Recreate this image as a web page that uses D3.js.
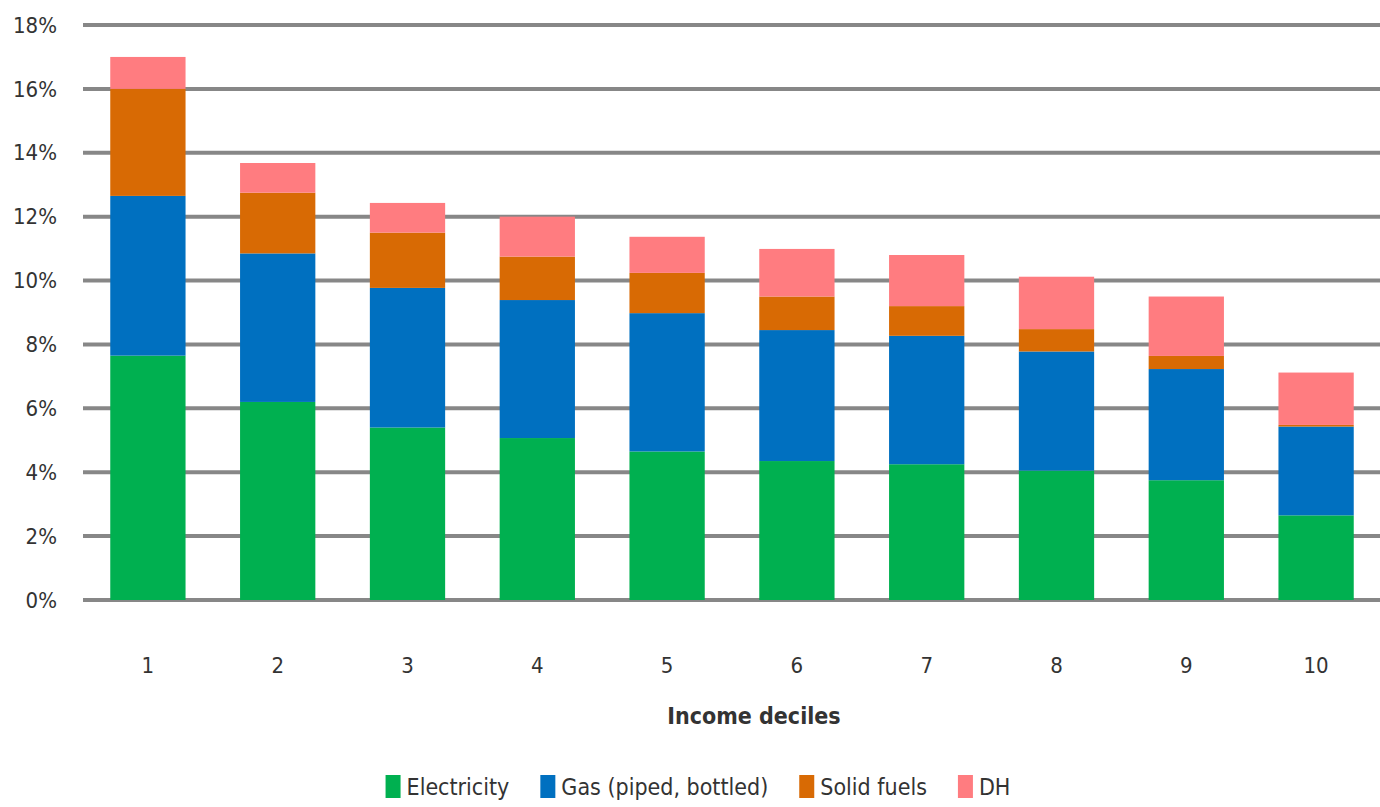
<!DOCTYPE html>
<html>
<head>
<meta charset="utf-8" />
<title>Energy expenditure by income decile</title>
<style>
  body { margin: 0; background: #fff; }
  text { font-family: "Liberation Sans Narrow", "DejaVu Sans Condensed", sans-serif; fill: #333; }
</style>
</head>
<body>
<div id="chart"></div>
<script src="https://d3js.org/d3.v7.min.js"></script>
<script>
const deciles = ["1", "2", "3", "4", "5", "6", "7", "8", "9", "10"];
const seriesNames = ["Electricity", "Gas (piped, bottled)", "Solid fuels", "DH"];
const electricity = [7.65, 6.2, 5.4, 5.07, 4.65, 4.35, 4.25, 4.05, 3.75, 2.65];
const gas = [5.0, 4.65, 4.37, 4.32, 4.33, 4.1, 4.02, 3.73, 3.48, 2.78];
const solidFuels = [3.35, 1.9, 1.73, 1.36, 1.26, 1.05, 0.93, 0.7, 0.41, 0.05];
const dh = [1.0, 0.93, 0.93, 1.25, 1.13, 1.49, 1.6, 1.64, 1.86, 1.64];
const yTicks = [0, 2, 4, 6, 8, 10, 12, 14, 16, 18];
const colors = ["#00b050", "#0070c0", "#d86a04", "#ff7c80"];

const width = 1380, height = 807;
const svg = d3.select("#chart").append("svg")
  .attr("width", width).attr("height", height);

const rows = deciles.map((d, i) => ({
  decile: d,
  "Electricity": electricity[i],
  "Gas (piped, bottled)": gas[i],
  "Solid fuels": solidFuels[i],
  "DH": dh[i]
}));
const stacked = d3.stack().keys(seriesNames)(rows);

const x = d3.scaleBand().domain(deciles).range([83, 1381]).paddingInner(0.42).paddingOuter(0.21);
const y = d3.scaleLinear().domain([0, 18]).range([600, 25]);

// gridlines
svg.append("g").selectAll("line").data(yTicks).join("line")
  .attr("x1", 83).attr("x2", width)
  .attr("y1", d => y(d)).attr("y2", d => y(d))
  .attr("stroke", "#878787").attr("stroke-width", 4);

// y labels
svg.append("g").selectAll("text").data(yTicks).join("text")
  .attr("x", 57).attr("y", d => y(d)).attr("dy", "0.35em")
  .attr("text-anchor", "end").attr("font-size", 22)
  .text(d => d + "%");

// bars
svg.append("g").selectAll("g").data(stacked).join("g")
  .attr("fill", (d, i) => colors[i])
  .selectAll("rect").data(d => d).join("rect")
  .attr("x", d => x(d.data.decile))
  .attr("width", x.bandwidth())
  .attr("y", d => y(d[1]))
  .attr("height", d => y(d[0]) - y(d[1]));

// x labels
svg.append("g").selectAll("text").data(deciles).join("text")
  .attr("x", d => x(d) + x.bandwidth() / 2).attr("y", 665).attr("dy", "0.35em")
  .attr("text-anchor", "middle").attr("font-size", 22)
  .text(d => d);

svg.append("text")
  .attr("x", 754).attr("y", 716).attr("dy", "0.35em")
  .attr("text-anchor", "middle").attr("font-size", 23).attr("font-weight", "bold")
  .text("Income deciles");

// legend
const legend = svg.append("g");
let lx = 0;
seriesNames.forEach((name, i) => {
  const g = legend.append("g").attr("transform", `translate(${lx},0)`);
  g.append("rect").attr("x", 0).attr("y", 775).attr("width", 15).attr("height", 23).attr("fill", colors[i]);
  const t = g.append("text").attr("x", 21).attr("y", 787).attr("dy", "0.35em")
    .attr("font-size", 23).text(name);
  lx += 21 + t.node().getComputedTextLength() + 31;
});
const legendW = lx - 31;
legend.attr("transform", `translate(${698 - legendW / 2},0)`);
</script>
</body>
</html>
